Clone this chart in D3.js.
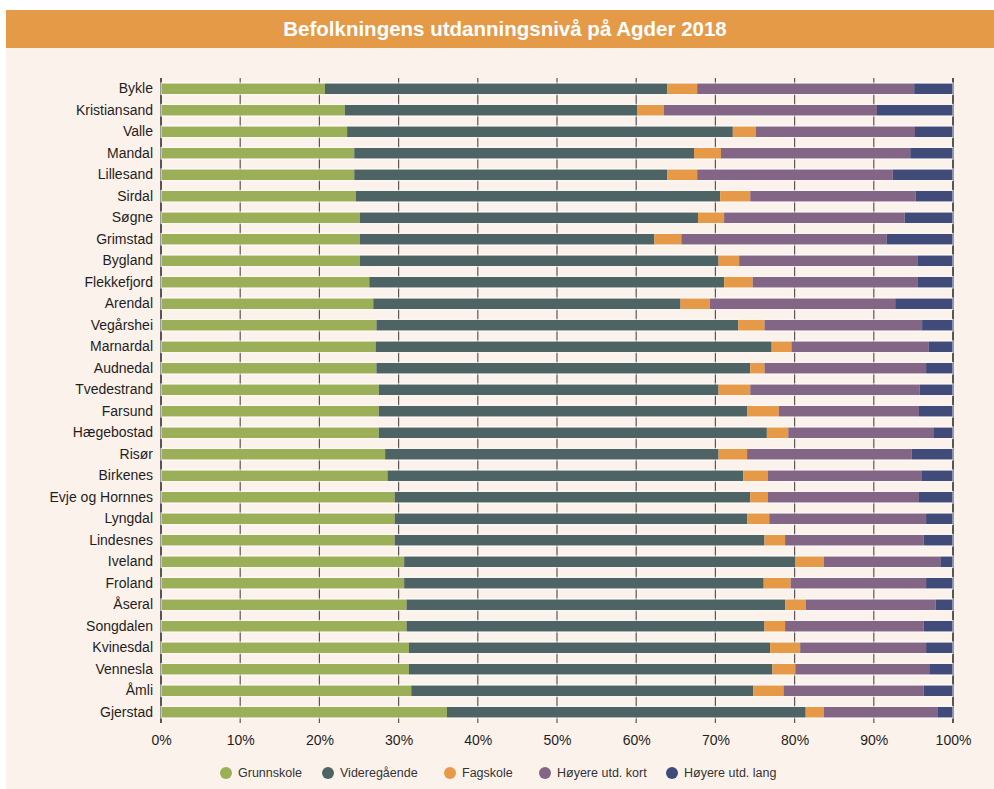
<!DOCTYPE html>
<html>
<head>
<meta charset="utf-8">
<script src="https://cdn.jsdelivr.net/npm/d3@7"></script>
<style>
  body { margin: 0; background: #fff; }
  svg { display: block; font-family: "Liberation Sans", Arial, sans-serif; }
</style>
</head>
<body>
<svg id="chart" width="994" height="789"></svg>
<script>
// kommuner, sortert som i figuren
var kommuner = ["Bykle", "Kristiansand", "Valle", "Mandal", "Lillesand", "Sirdal", "Søgne",
  "Grimstad", "Bygland", "Flekkefjord", "Arendal", "Vegårshei", "Marnardal", "Audnedal",
  "Tvedestrand", "Farsund", "Hægebostad", "Risør", "Birkenes", "Evje og Hornnes", "Lyngdal",
  "Lindesnes", "Iveland", "Froland", "Åseral", "Songdalen", "Kvinesdal", "Vennesla", "Åmli", "Gjerstad"];

var nivaa = ["Grunnskole", "Videregående", "Fagskole", "Høyere utd. kort", "Høyere utd. lang"];

// andeler i prosent (lest av figuren)
var grunnskole   = [20.7, 23.2, 23.5, 24.4, 24.4, 24.6, 25.1, 25.1, 25.1, 26.3, 26.8, 27.2, 27.1, 27.2, 27.5, 27.5, 27.5, 28.3, 28.6, 29.5, 29.5, 29.5, 30.7, 30.7, 31.0, 31.0, 31.3, 31.3, 31.6, 36.1];
var videregaende = [43.2, 36.9, 48.7, 42.9, 39.5, 46.0, 42.7, 37.2, 45.3, 44.8, 38.8, 45.7, 50.0, 47.2, 42.9, 46.5, 49.0, 42.1, 44.9, 44.9, 44.5, 46.7, 49.4, 45.4, 47.8, 45.2, 45.6, 45.9, 43.2, 45.3];
var fagskole     = [3.8, 3.4, 2.9, 3.4, 3.8, 3.8, 3.3, 3.4, 2.6, 3.6, 3.7, 3.3, 2.5, 1.8, 4.0, 4.0, 2.7, 3.6, 3.1, 2.2, 2.8, 2.6, 3.6, 3.4, 2.6, 2.6, 3.8, 2.9, 3.8, 2.3];
var hoyereKort   = [27.4, 26.9, 20.1, 23.9, 24.7, 20.9, 22.8, 25.9, 22.5, 20.8, 23.4, 19.9, 17.3, 20.4, 21.4, 17.7, 18.4, 20.8, 19.4, 19.1, 19.8, 17.5, 14.7, 17.1, 16.4, 17.5, 15.9, 16.9, 17.7, 14.4];
var hoyereLang   = [4.9, 9.6, 4.8, 5.4, 7.6, 4.7, 6.1, 8.4, 4.5, 4.5, 7.3, 3.9, 3.1, 3.4, 4.2, 4.3, 2.4, 5.2, 4.0, 4.3, 3.4, 3.7, 1.6, 3.4, 2.2, 3.7, 3.4, 3.0, 3.7, 1.9];

var farger = ["#9bae58", "#4e6464", "#e69a47", "#836585", "#404b79"];
var xTicks = [0, 10, 20, 30, 40, 50, 60, 70, 80, 90, 100];

var serier = [grunnskole, videregaende, fagskole, hoyereKort, hoyereLang];
var rader = kommuner.map(function(k, i) {
  var r = { kommune: k };
  nivaa.forEach(function(n, j) { r[n] = serier[j][i]; });
  return r;
});

var svg = d3.select("#chart");

// bakgrunn og tittel
svg.append("rect").attr("x", 6).attr("y", 47).attr("width", 988).attr("height", 742).attr("fill", "#fcf2ec");
svg.append("rect").attr("x", 6).attr("y", 10).attr("width", 988).attr("height", 38).attr("fill", "#e59a48");
svg.append("text")
  .attr("x", 505).attr("y", 36)
  .attr("text-anchor", "middle")
  .attr("fill", "#fff")
  .attr("font-size", 20.5).attr("font-weight", "bold")
  .text("Befolkningens utdanningsnivå på Agder 2018");

var margin = { left: 161, right: 41, top: 78, bottom: 66 };
var x = d3.scaleLinear().domain([0, 100]).range([margin.left, 994 - margin.right]);
var y = d3.scaleBand().domain(kommuner).range([margin.top, 789 - margin.bottom]).paddingInner(0.5).paddingOuter(0.25);

// vertikale gridlinjer
svg.append("g").selectAll("line")
  .data(xTicks)
  .join("line")
  .attr("x1", function(d) { return x(d); })
  .attr("x2", function(d) { return x(d); })
  .attr("y1", margin.top)
  .attr("y2", 789 - margin.bottom)
  .attr("stroke", function(d) { return d === 0 || d === 100 ? "#222" : "#5a5656"; })
  .attr("stroke-width", function(d) { return d === 0 || d === 100 ? 1.5 : 1.2; });

var stack = d3.stack().keys(nivaa)(rader);

svg.append("g").selectAll("g")
  .data(stack)
  .join("g")
  .attr("fill", function(d, i) { return farger[i]; })
  .selectAll("rect")
  .data(function(d) { return d; })
  .join("rect")
  .attr("x", function(d) { return x(d[0]); })
  .attr("width", function(d) { return x(d[1]) - x(d[0]); })
  .attr("y", function(d) { return y(d.data.kommune); })
  .attr("height", y.bandwidth());

// lys kant rundt hver stolpe
svg.append("g").selectAll("rect")
  .data(kommuner)
  .join("rect")
  .attr("x", x(0))
  .attr("width", x(100) - x(0))
  .attr("y", function(d) { return y(d) - 0.5; })
  .attr("height", y.bandwidth() + 1)
  .attr("fill", "none")
  .attr("stroke", "#ffffff")
  .attr("stroke-opacity", 0.8)
  .attr("stroke-width", 1);

// akser
var yAxis = svg.append("g")
  .attr("transform", "translate(" + (margin.left - 2) + ",0)")
  .call(d3.axisLeft(y).tickSize(0).tickPadding(6));
yAxis.select(".domain").remove();
yAxis.selectAll("text")
  .attr("font-size", 14)
  .attr("fill", "#1e1e1e")
  .attr("font-family", "Liberation Sans, Arial, sans-serif");

var xAxis = svg.append("g")
  .attr("transform", "translate(0," + (789 - margin.bottom) + ")")
  .call(d3.axisBottom(x).tickValues(xTicks).tickSize(0).tickPadding(12)
    .tickFormat(function(d) { return d + "%"; }));
xAxis.select(".domain").remove();
xAxis.selectAll("text")
  .attr("font-size", 14)
  .attr("fill", "#1e1e1e")
  .attr("font-family", "Liberation Sans, Arial, sans-serif");

// tegnforklaring
var legendX = [226, 328, 450, 545, 672];
var legend = svg.append("g").selectAll("g")
  .data(nivaa)
  .join("g")
  .attr("transform", function(d, i) { return "translate(" + legendX[i] + ",773)"; });
legend.append("circle").attr("r", 6).attr("fill", function(d, i) { return farger[i]; });
legend.append("text")
  .attr("x", 12).attr("dy", "0.35em")
  .attr("font-size", 12.5)
  .attr("fill", "#333")
  .text(function(d) { return d; });
</script>
</body>
</html>
